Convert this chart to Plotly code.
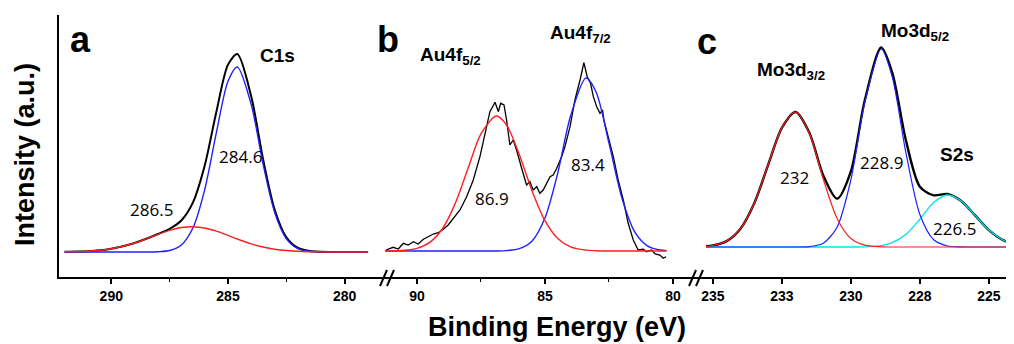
import plotly.graph_objects as go

# ---------------- data (binding energy eV, intensity a.u.) ----------------
# panel a : C1s
A_EV = [292.0, 291.5, 291.0, 290.5, 290.0, 289.5, 289.0, 288.5, 288.0, 287.5, 287.0, 286.5,
        286.0, 285.5, 285.0, 284.6, 284.0, 283.5, 283.0, 282.5, 282.0, 281.5, 281.0, 280.5,
        280.0, 279.5, 279.0]
A_BLACK = [25.2, 25.4, 25.8, 26.7, 28.3, 30.7, 34.0, 38.2, 43.0, 48.2, 56.5, 74.6, 111.2, 164.9,
           212.4, 223.0, 180.0, 118.1, 67.3, 39.7, 29.0, 25.9, 25.2, 25, 25, 25, 25]
A_BLUE = [25, 25, 25, 25, 25, 25, 25, 25, 25.3, 26.5, 32.0, 49.3, 87.2, 144.1, 195.8, 210.0,
          171.9, 113.1, 64.5, 38.2, 28.3, 25.6, 25.1, 25, 25, 25, 25]
A_RED = [25.2, 25.4, 25.8, 26.7, 28.3, 30.7, 34.0, 38.2, 42.7, 46.7, 49.5, 50.3, 49.0, 45.8,
         41.6, 38.0, 33.1, 30.0, 27.8, 26.5, 25.7, 25.3, 25.1, 25, 25, 25, 25]

# panel b : Au4f (raw spectrum + fitted components)
B_EV_RAW = [91.21, 90.93, 90.73, 90.53, 90.34, 90.14, 89.95, 89.75, 89.56, 89.36, 89.17, 88.97,
            88.78, 88.58, 88.32, 88.06, 87.80, 87.54, 87.34, 87.15, 86.95, 86.82, 86.73, 86.60,
            86.50, 86.37, 86.24, 86.11, 85.91, 85.72, 85.59, 85.46, 85.32, 85.20, 85.07, 84.93,
            84.80, 84.68, 84.54, 84.35, 84.22, 84.02, 83.83, 83.63, 83.48, 83.35, 83.22, 83.11,
            82.98, 82.85, 82.75, 82.70, 82.53, 82.33, 82.14, 81.94, 81.75, 81.55, 81.36, 81.16,
            81.03, 80.83, 80.70, 80.51, 80.38, 80.27]
B_RAW = [27.0, 29.7, 28.0, 33.7, 32.0, 35.3, 33.0, 37.7, 40.3, 43.0, 44.3, 47.7, 52.0, 58.7, 67.0,
         80.3, 97.0, 120.3, 143.7, 165.3, 174.7, 165.3, 173.7, 172.0, 157.0, 132.0, 137.0, 127.0,
         108.7, 92.0, 95.3, 87.0, 90.3, 83.7, 87.0, 93.7, 100.3, 102.0, 108.7, 120.3, 130.3, 150.3,
         177.0, 197.0, 214.3, 200.3, 193.7, 180.3, 170.3, 163.7, 167.0, 157.0, 140.3, 120.3, 97.0,
         77.0, 53.7, 37.0, 27.0, 27.7, 25.3, 27.0, 23.0, 22.0, 18.7, 20.3]
B_EV_FIT = [91.25, 91.0, 90.5, 90.0, 89.5, 89.0, 88.5, 88.0, 87.5, 86.9, 86.5, 86.0, 85.5, 85.0,
            84.5, 84.0, 83.4, 83.0, 82.5, 82.0, 81.5, 81.0, 80.5, 80.25]
B_RED = [26.1, 26.1, 26.7, 28.7, 34.6, 48.5, 73.9, 108.9, 143.1, 161.0, 152.0, 122.2, 85.8, 56.3,
         38.5, 30.2, 26.9, 26.3, 26.0, 26.0, 26, 26, 26, 26]
B_BLUE = [26.0, 26.0, 26.0, 26.0, 26.0, 26.0, 26.0, 26.0, 26.0, 26.0, 26.4, 28.3, 36.1, 58.9,
          103.9, 161.0, 199.0, 184.8, 133.8, 79.5, 45.4, 31.2, 27.0, 26.4]

# panel c : Mo3d / S2s
C_EV = [235.25, 235.0, 234.5, 234.0, 233.5, 233.0, 232.5, 232.0, 231.5, 231.0, 230.5, 230.0,
        229.5, 228.9, 228.5, 228.0, 227.5, 227.0, 226.5, 226.0, 225.5, 225.0, 224.5, 224.15]
C_BLACK = [30.7, 31.5, 35.9, 48.3, 73.8, 111.9, 149.1, 165.0, 144.0, 101.5, 78.4, 105.7, 176.3,
           229.6, 204.2, 136.0, 90.3, 81.7, 83.0, 76.0, 61.6, 46.9, 37.0, 33.3]
C_RED = [30.7, 31.5, 35.9, 48.3, 73.8, 111.9, 149.1, 165.0, 143.6, 97.8, 58.6, 38.5, 31.8, 30.2,
         30, 30, 30, 30, 30, 30, 30, 30, 30, 30]
C_BLUE = [30, 30, 30, 30, 30, 30, 30, 30.0, 30.4, 33.7, 49.8, 97.2, 174.3, 228.0, 199.9, 123.3,
          62.5, 37.2, 31.0, 30.1, 30, 30, 30, 30]
C_CYAN = [30, 30, 30, 30, 30, 30, 30, 30, 30, 30, 30, 30, 30.2, 31.4, 34.3, 42.7, 57.8, 74.5,
          82.0, 75.9, 61.6, 46.9, 37.0, 33.3]

# tick labels
A_TICKS = [290, 285, 280]
A_MINOR = [287.5, 282.5]
B_TICKS = [90, 85, 80]
B_MINOR = [87.5, 82.5]
C_TICKVALS = [235, 232.5, 230, 227.5, 225]
C_TICKTEXT = ["235", "233", "230", "228", "225"]

# ---------------- layout geometry ----------------
# the page body has an 8px margin, so the figure is made 8px smaller and margins reduced by 8
OFF = 8
VW, VH = 1014, 344                 # visible window
ML_V, MT_V, MB_V = 59, 15, 67      # plot area edges in window pixels (left, top, bottom margin)
W, H = VW - OFF, VH - OFF
PW = VW - ML_V
PH = VH - MT_V - MB_V
BOTTOM = VH - MB_V                 # window y of the x-axis line


def px(x):
    return (x - ML_V) / PW


def py(y):
    return (BOTTOM - y) / PH


RED = "#ff1f1f"
BLUE = "#2020ff"
CYAN = "#00e5e5"
BLACK = "#000000"

fig = go.Figure()


def add(x, y, xa, color, width, shape="spline"):
    fig.add_trace(go.Scatter(x=x, y=y, xaxis=xa, yaxis="y", mode="lines",
                             line=dict(color=color, width=width, shape=shape,
                                       smoothing=0.8 if shape == "spline" else None),
                             showlegend=False, hoverinfo="skip"))


# panel a
add(A_EV, A_BLACK, "x", BLACK, 2.0)
add(A_EV, A_BLUE, "x", BLUE, 1.4)
add(A_EV, A_RED, "x", RED, 1.4)
# panel b
add(B_EV_RAW, B_RAW, "x2", BLACK, 1.3, shape="linear")
add(B_EV_FIT, B_BLUE, "x2", BLUE, 1.4)
add(B_EV_FIT, B_RED, "x2", RED, 1.4)
# panel c
add(C_EV, C_BLACK, "x3", BLACK, 2.4)
add(C_EV, C_CYAN, "x3", CYAN, 1.3)
add(C_EV, C_BLUE, "x3", BLUE, 1.2)
add(C_EV, C_RED, "x3", RED, 1.2)

tickfont = dict(family="Liberation Sans, Arial, sans-serif", size=14, color="black", weight="bold")
common = dict(anchor="y", showline=True, linecolor="black", linewidth=2, ticks="outside",
              ticklen=5, tickwidth=1.5, tickcolor="black", showgrid=False, zeroline=False,
              tickfont=tickfont, tickmode="array")

fig.update_layout(
    width=W, height=H, margin=dict(l=ML_V - OFF, r=0, t=MT_V - OFF, b=MB_V, pad=0),
    paper_bgcolor="white", plot_bgcolor="white",
    xaxis=dict(domain=[px(59), px(376)], range=[292.24, 278.66], tickvals=A_TICKS,
               minor=dict(tickmode="array", tickvals=A_MINOR, ticks="outside", ticklen=3,
                          tickwidth=1.2, tickcolor="black"), **common),
    xaxis2=dict(domain=[px(376), px(685)], range=[91.60, 79.53], tickvals=B_TICKS,
                minor=dict(tickmode="array", tickvals=B_MINOR, ticks="outside", ticklen=3,
                           tickwidth=1.2, tickcolor="black"), **common),
    xaxis3=dict(domain=[px(685), 1.0], range=[236.01, 224.09], tickvals=C_TICKVALS,
                ticktext=C_TICKTEXT, **common),
    yaxis=dict(domain=[0, 1], range=[0, 262], anchor="x", showline=True, linecolor="black",
               linewidth=2, showticklabels=False, ticks="", showgrid=False, zeroline=False),
)

# axis break marks "//"
for bx in (380, 689):
    for off in (0, 7):
        fig.add_shape(type="line", xref="paper", yref="paper",
                      x0=px(bx + off), y0=py(286), x1=px(bx + off + 7), y1=py(270),
                      line=dict(color="black", width=2))

BOLD = "Liberation Sans, Arial, sans-serif"
REG = "Open Sans, sans-serif"


def text(t, x, y, size, family, bold=False, angle=0):
    fig.add_annotation(text=("<b>%s</b>" % t) if bold else t, xref="paper", yref="paper",
                       x=px(x), y=py(y), xanchor="center", yanchor="middle", showarrow=False,
                       textangle=angle, font=dict(family=family, size=size, color="black"))


# panel letters
text("a", 80, 40, 36, BOLD, True)
text("b", 388, 40, 36, BOLD, True)
text("c", 707, 41, 36, BOLD, True)
# peak names
text("C1s", 277, 55, 19, BOLD, True)
text("Au4f<sub>5/2</sub>", 450, 56, 19, BOLD, True)
text("Au4f<sub>7/2</sub>", 580, 34, 19, BOLD, True)
text("Mo3d<sub>3/2</sub>", 791, 71, 19, BOLD, True)
text("Mo3d<sub>5/2</sub>", 915, 32, 19, BOLD, True)
text("S2s", 957, 154, 19, BOLD, True)
# peak positions
text("286.5", 151, 209, 17, REG)
text("284.6", 240, 156, 17, REG)
text("86.9", 492, 198, 17, REG)
text("83.4", 588, 164, 17, REG)
text("232", 794, 177, 17, REG)
text("228.9", 881, 162, 17, REG)
text("226.5", 954, 228, 17, REG)
# axis titles
text("Intensity (a.u.)", 25, 155, 27, BOLD, True, angle=-90)
text("Binding Energy (eV)", 557, 327, 27, BOLD, True)

fig.write_html("out.html")
